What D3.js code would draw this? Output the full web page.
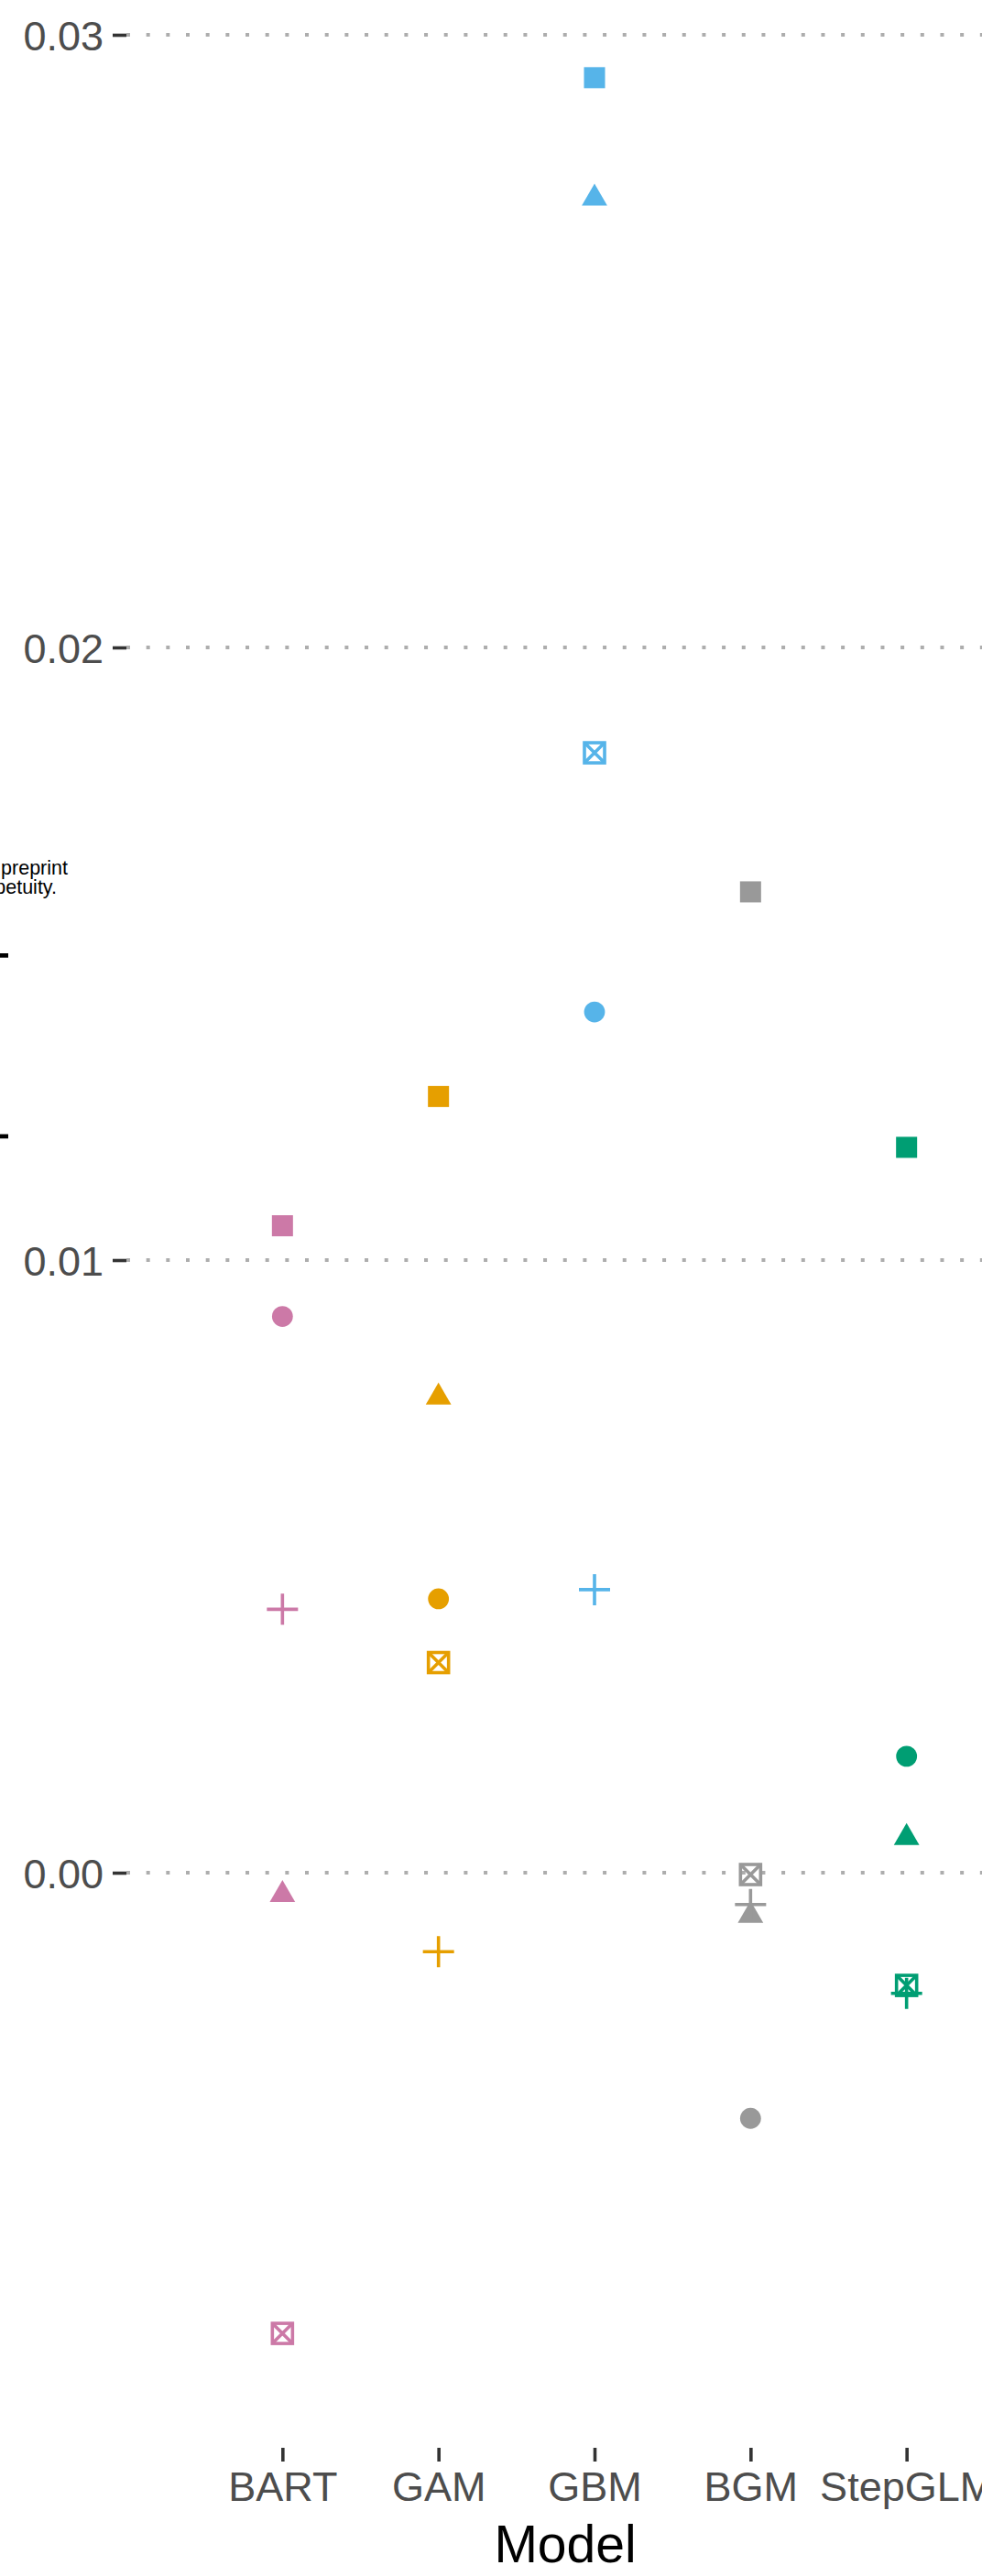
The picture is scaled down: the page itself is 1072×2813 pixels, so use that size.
<!DOCTYPE html>
<html><head><meta charset="utf-8">
<script src="https://cdn.jsdelivr.net/npm/d3@7"></script>
<style>
body{margin:0;background:#fff;overflow:hidden}
text{font-family:"Liberation Sans",Arial,Helvetica,sans-serif}
</style>
</head><body>
<svg id="chart" width="1072" height="2813"></svg>
<script>
// ---- data ----
const models = ["BART", "GAM", "GBM", "BGM", "StepGLM"];
const modelColors = ["#CC79A7", "#E69F00", "#56B4E9", "#999999", "#009E73"];
const shapeLevels = ["circle", "triangle", "square", "plus", "boxcross"];
const circleVals   = [0.00908, 0.00447, 0.01405, -0.00401, 0.00190];
const triangleVals = [-0.00036, 0.00776, 0.02733, -0.00070, 0.00057];
const squareVals   = [0.01056, 0.01267, 0.02930, 0.01601, 0.01184];
const plusVals     = [0.00430, -0.00129, 0.00462, -0.00052, -0.00197];
const boxcrossVals = [-0.00752, 0.00343, 0.01828, -0.00003, -0.00184];
const yTicks = [0, 0.01, 0.02, 0.03];
const yTickLabels = ["0.00", "0.01", "0.02", "0.03"];
const xTitle = "Model";
const yTitle = "RMSE spatial improvement";

const valuesByShape = [circleVals, triangleVals, squareVals, plusVals, boxcrossVals];
const points = [];
models.forEach((m, mi) => {
  shapeLevels.forEach((s, si) => {
    points.push({model: m, shape: s, value: valuesByShape[si][mi], color: modelColors[mi]});
  });
});

// ---- layout ----
const svg = d3.select("#chart");
svg.append("rect").attr("width", 1072).attr("height", 2813).attr("fill", "#fff");

const panelLeft = 138, panelRight = 1160, panelBottom = 2673;
const x = d3.scalePoint().domain(models).range([panelLeft, panelRight]).padding(1);
const y = d3.scaleLinear().domain([0, 0.03]).range([2045, 38]);
const color = d3.scaleOrdinal().domain(models).range(modelColors);

// gridlines
svg.append("g").selectAll("line").data(yTicks).join("line")
  .attr("x1", panelLeft).attr("x2", 1072)
  .attr("y1", d => y(d)).attr("y2", d => y(d))
  .attr("stroke", "#ADADAD").attr("stroke-width", 3.8)
  .attr("stroke-dasharray", "4 17.67");

// y axis
const yAxis = svg.append("g").attr("transform", `translate(${panelLeft},0)`)
  .call(d3.axisLeft(y).tickValues(yTicks).tickFormat((d, i) => yTickLabels[i]).tickSize(15).tickPadding(10));
yAxis.select(".domain").remove();
yAxis.selectAll(".tick line").attr("stroke", "#333").attr("stroke-width", 3.6);
yAxis.selectAll(".tick text").attr("font-size", 45).attr("fill", "#4D4D4D")
  .attr("font-family", '"Liberation Sans",Arial,sans-serif').attr("dy", "0.37em");

// x axis
const xAxis = svg.append("g").attr("transform", `translate(0,${panelBottom})`)
  .call(d3.axisBottom(x).tickSize(15).tickPadding(11));
xAxis.select(".domain").remove();
xAxis.selectAll(".tick line").attr("stroke", "#333").attr("stroke-width", 3.6);
xAxis.selectAll(".tick text").attr("font-size", 45).attr("fill", "#4D4D4D")
  .attr("font-family", '"Liberation Sans",Arial,sans-serif');

// axis titles
svg.append("text").attr("x", 617).attr("y", 2798).attr("text-anchor", "middle")
  .attr("font-size", 57).attr("fill", "#000").text(xTitle);
svg.append("text").attr("transform", "translate(-2,1120) rotate(-90)")
  .attr("text-anchor", "middle").attr("font-size", 53).attr("fill", "#000").text(yTitle);

// watermark fragments (bioRxiv notice, cropped)
svg.append("text").attr("x", 74).attr("y", 955).attr("text-anchor", "end")
  .attr("font-size", 21.5).attr("fill", "#000").text("this preprint");
svg.append("text").attr("x", 62).attr("y", 976).attr("text-anchor", "end")
  .attr("font-size", 21.5).attr("fill", "#000").text("perpetuity.");

// points
const sw = 3.6;
const g = svg.append("g");
points.forEach(p => {
  const cx = x(p.model), cy = y(p.value), c = color(p.model);
  if (p.shape === "circle") {
    g.append("circle").attr("cx", cx).attr("cy", cy).attr("r", 11.4).attr("fill", c);
  } else if (p.shape === "square") {
    g.append("rect").attr("x", cx - 11.5).attr("y", cy - 11.5).attr("width", 23).attr("height", 23).attr("fill", c);
  } else if (p.shape === "triangle") {
    const path = d3.path();
    path.moveTo(cx, cy - 16); path.lineTo(cx + 13.9, cy + 8); path.lineTo(cx - 13.9, cy + 8); path.closePath();
    g.append("path").attr("d", path.toString()).attr("fill", c);
  } else if (p.shape === "plus") {
    const path = d3.path();
    path.moveTo(cx - 17, cy); path.lineTo(cx + 17, cy);
    path.moveTo(cx, cy - 17); path.lineTo(cx, cy + 17);
    g.append("path").attr("d", path.toString()).attr("stroke", c).attr("stroke-width", sw).attr("fill", "none");
  } else {
    const h = 11;
    g.append("rect").attr("x", cx - h).attr("y", cy - h).attr("width", 2 * h).attr("height", 2 * h)
      .attr("fill", "none").attr("stroke", c).attr("stroke-width", sw);
    const path = d3.path();
    path.moveTo(cx - h, cy - h); path.lineTo(cx + h, cy + h);
    path.moveTo(cx + h, cy - h); path.lineTo(cx - h, cy + h);
    g.append("path").attr("d", path.toString()).attr("stroke", c).attr("stroke-width", sw).attr("fill", "none");
  }
});
</script>
</body></html>
